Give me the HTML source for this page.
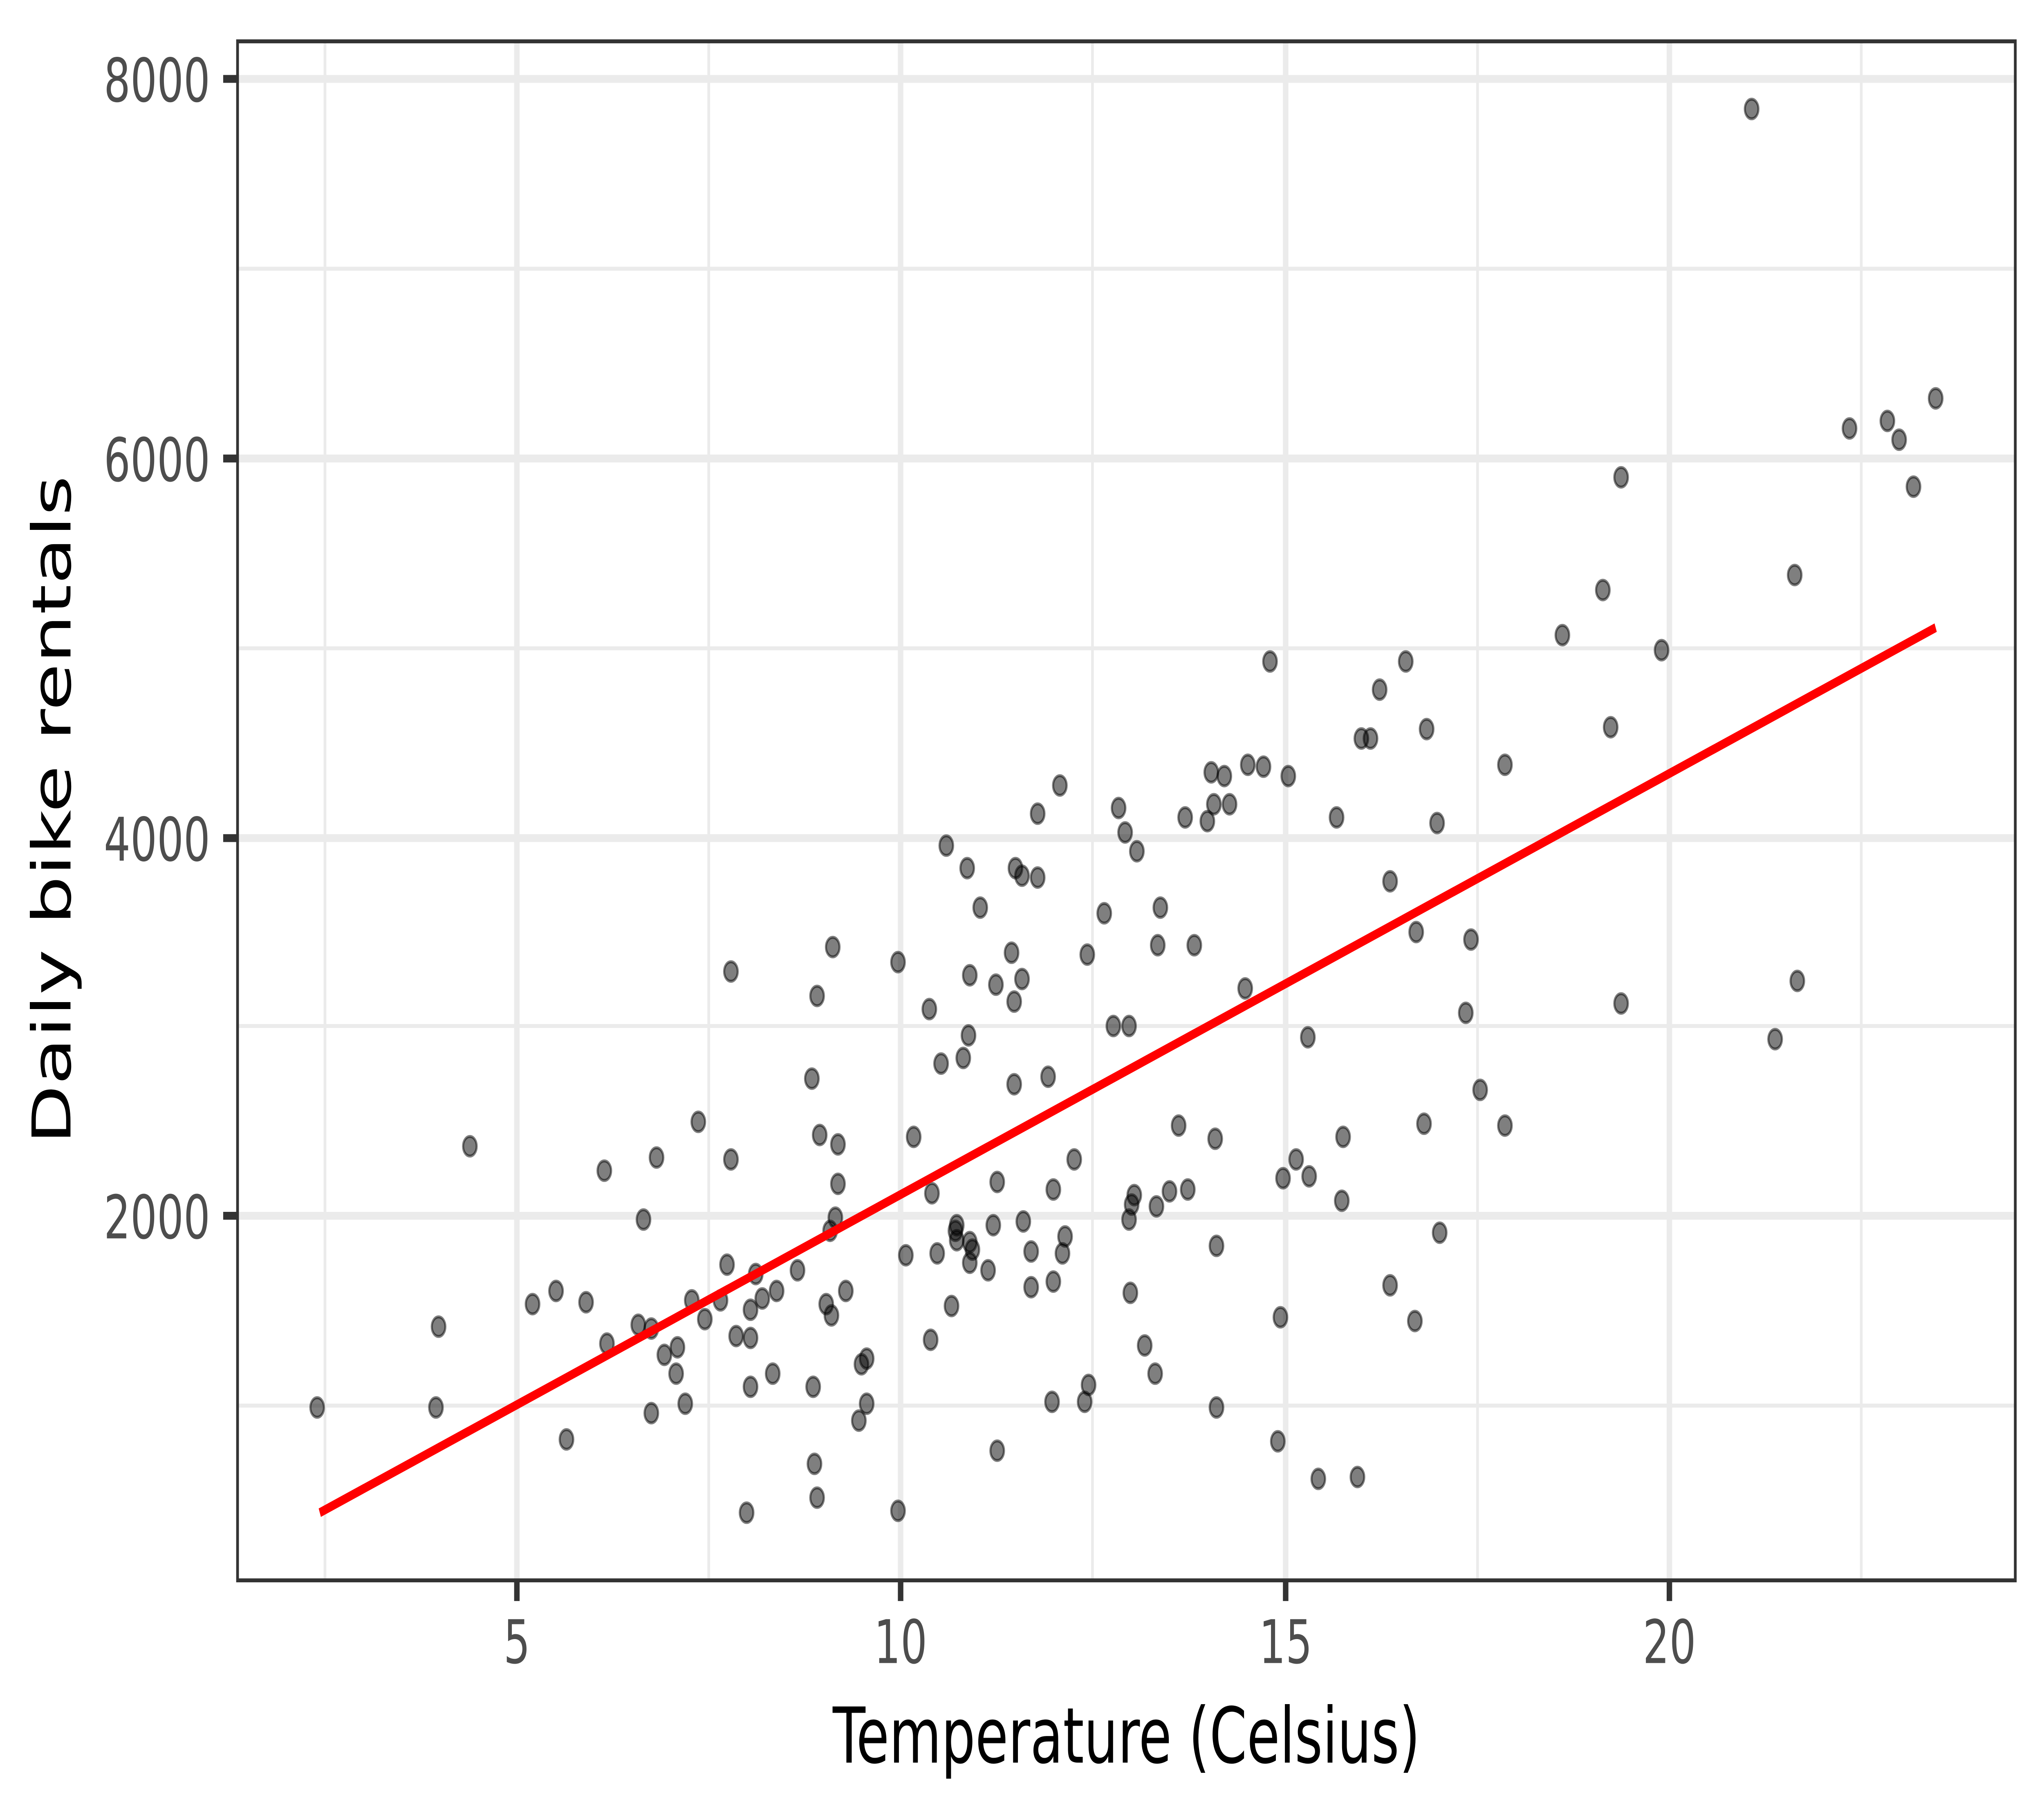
<!DOCTYPE html>
<html><head><meta charset="utf-8"><meta name="viewport" content="width=7200"><style>html,body{margin:0;padding:0;background:#fff;width:100%;height:100%;overflow:hidden}svg{display:block;position:fixed;left:0;top:0;width:100vw;height:100vh}</style></head>
<body>
<svg xmlns="http://www.w3.org/2000/svg" viewBox="0 0 1566 968" preserveAspectRatio="none" font-family="'DejaVu Sans','Liberation Sans',sans-serif">
<rect width="1566" height="968" fill="#fff"/>
<g stroke="#ebebeb" stroke-width="2.1">
<line x1="249" y1="22" x2="249" y2="841"/><line x1="543" y1="22" x2="543" y2="841"/><line x1="837" y1="22" x2="837" y2="841"/><line x1="1132" y1="22" x2="1132" y2="841"/><line x1="1426" y1="22" x2="1426" y2="841"/>
<line x1="182" y1="143" x2="1544" y2="143"/><line x1="182" y1="345" x2="1544" y2="345"/><line x1="182" y1="546" x2="1544" y2="546"/><line x1="182" y1="748" x2="1544" y2="748"/>
</g>
<g stroke="#ebebeb" stroke-width="4.2">
<line x1="396" y1="22" x2="396" y2="841"/><line x1="690" y1="22" x2="690" y2="841"/><line x1="985" y1="22" x2="985" y2="841"/><line x1="1279" y1="22" x2="1279" y2="841"/>
<line x1="182" y1="42" x2="1544" y2="42"/><line x1="182" y1="244" x2="1544" y2="244"/><line x1="182" y1="446" x2="1544" y2="446"/><line x1="182" y1="647" x2="1544" y2="647"/>
</g>
<g fill="rgba(0,0,0,0.5)" stroke="rgba(0,0,0,0.5)" stroke-width="1.6">
<circle cx="243" cy="749" r="5.2"/><circle cx="334" cy="749" r="5.2"/><circle cx="336" cy="706" r="5.2"/><circle cx="360" cy="610" r="5.2"/><circle cx="408" cy="694" r="5.2"/><circle cx="426" cy="687" r="5.2"/><circle cx="434" cy="766" r="5.2"/><circle cx="449" cy="693" r="5.2"/><circle cx="463" cy="623" r="5.2"/><circle cx="465" cy="715" r="5.2"/><circle cx="489" cy="705" r="5.2"/><circle cx="493" cy="649" r="5.2"/><circle cx="499" cy="752" r="5.2"/><circle cx="499" cy="707" r="5.2"/><circle cx="503" cy="616" r="5.2"/><circle cx="509" cy="721" r="5.2"/><circle cx="518" cy="731" r="5.2"/><circle cx="519" cy="717" r="5.2"/><circle cx="525" cy="747" r="5.2"/><circle cx="530" cy="692" r="5.2"/><circle cx="535" cy="597" r="5.2"/><circle cx="540" cy="702" r="5.2"/><circle cx="552" cy="692" r="5.2"/><circle cx="557" cy="673" r="5.2"/><circle cx="560" cy="517" r="5.2"/><circle cx="560" cy="617" r="5.2"/><circle cx="564" cy="711" r="5.2"/><circle cx="575" cy="712" r="5.2"/><circle cx="575" cy="738" r="5.2"/><circle cx="572" cy="805" r="5.2"/><circle cx="575" cy="697" r="5.2"/><circle cx="579" cy="678" r="5.2"/><circle cx="584" cy="691" r="5.2"/><circle cx="592" cy="731" r="5.2"/><circle cx="595" cy="687" r="5.2"/><circle cx="611" cy="676" r="5.2"/><circle cx="622" cy="574" r="5.2"/><circle cx="623" cy="738" r="5.2"/><circle cx="624" cy="779" r="5.2"/><circle cx="626" cy="530" r="5.2"/><circle cx="626" cy="797" r="5.2"/><circle cx="628" cy="604" r="5.2"/><circle cx="633" cy="694" r="5.2"/><circle cx="636" cy="655" r="5.2"/><circle cx="637" cy="700" r="5.2"/><circle cx="638" cy="504" r="5.2"/><circle cx="640" cy="648" r="5.2"/><circle cx="642" cy="609" r="5.2"/><circle cx="642" cy="630" r="5.2"/><circle cx="648" cy="687" r="5.2"/><circle cx="658" cy="756" r="5.2"/><circle cx="660" cy="726" r="5.2"/><circle cx="664" cy="747" r="5.2"/><circle cx="664" cy="723" r="5.2"/><circle cx="688" cy="512" r="5.2"/><circle cx="688" cy="804" r="5.2"/><circle cx="694" cy="668" r="5.2"/><circle cx="700" cy="605" r="5.2"/><circle cx="712" cy="537" r="5.2"/><circle cx="713" cy="713" r="5.2"/><circle cx="714" cy="635" r="5.2"/><circle cx="718" cy="667" r="5.2"/><circle cx="721" cy="566" r="5.2"/><circle cx="725" cy="450" r="5.2"/><circle cx="729" cy="695" r="5.2"/><circle cx="732" cy="655" r="5.2"/><circle cx="733" cy="652" r="5.2"/><circle cx="733" cy="660" r="5.2"/><circle cx="738" cy="563" r="5.2"/><circle cx="741" cy="462" r="5.2"/><circle cx="742" cy="551" r="5.2"/><circle cx="743" cy="519" r="5.2"/><circle cx="743" cy="661" r="5.2"/><circle cx="743" cy="672" r="5.2"/><circle cx="745" cy="665" r="5.2"/><circle cx="751" cy="483" r="5.2"/><circle cx="757" cy="676" r="5.2"/><circle cx="761" cy="652" r="5.2"/><circle cx="763" cy="524" r="5.2"/><circle cx="764" cy="629" r="5.2"/><circle cx="764" cy="772" r="5.2"/><circle cx="775" cy="507" r="5.2"/><circle cx="777" cy="577" r="5.2"/><circle cx="777" cy="533" r="5.2"/><circle cx="778" cy="462" r="5.2"/><circle cx="783" cy="521" r="5.2"/><circle cx="784" cy="650" r="5.2"/><circle cx="783" cy="466" r="5.2"/><circle cx="790" cy="685" r="5.2"/><circle cx="790" cy="666" r="5.2"/><circle cx="795" cy="467" r="5.2"/><circle cx="795" cy="433" r="5.2"/><circle cx="803" cy="573" r="5.2"/><circle cx="806" cy="746" r="5.2"/><circle cx="807" cy="633" r="5.2"/><circle cx="807" cy="682" r="5.2"/><circle cx="812" cy="418" r="5.2"/><circle cx="814" cy="667" r="5.2"/><circle cx="816" cy="658" r="5.2"/><circle cx="823" cy="617" r="5.2"/><circle cx="831" cy="746" r="5.2"/><circle cx="833" cy="508" r="5.2"/><circle cx="834" cy="737" r="5.2"/><circle cx="846" cy="486" r="5.2"/><circle cx="853" cy="546" r="5.2"/><circle cx="857" cy="430" r="5.2"/><circle cx="862" cy="443" r="5.2"/><circle cx="865" cy="546" r="5.2"/><circle cx="865" cy="649" r="5.2"/><circle cx="866" cy="688" r="5.2"/><circle cx="867" cy="641" r="5.2"/><circle cx="869" cy="636" r="5.2"/><circle cx="871" cy="453" r="5.2"/><circle cx="877" cy="716" r="5.2"/><circle cx="885" cy="731" r="5.2"/><circle cx="886" cy="642" r="5.2"/><circle cx="887" cy="503" r="5.2"/><circle cx="889" cy="483" r="5.2"/><circle cx="896" cy="634" r="5.2"/><circle cx="903" cy="599" r="5.2"/><circle cx="908" cy="435" r="5.2"/><circle cx="910" cy="633" r="5.2"/><circle cx="915" cy="503" r="5.2"/><circle cx="925" cy="437" r="5.2"/><circle cx="928" cy="411" r="5.2"/><circle cx="930" cy="428" r="5.2"/><circle cx="931" cy="606" r="5.2"/><circle cx="932" cy="663" r="5.2"/><circle cx="932" cy="749" r="5.2"/><circle cx="938" cy="413" r="5.2"/><circle cx="942" cy="428" r="5.2"/><circle cx="954" cy="526" r="5.2"/><circle cx="956" cy="407" r="5.2"/><circle cx="968" cy="408" r="5.2"/><circle cx="973" cy="352" r="5.2"/><circle cx="979" cy="767" r="5.2"/><circle cx="981" cy="701" r="5.2"/><circle cx="983" cy="627" r="5.2"/><circle cx="987" cy="413" r="5.2"/><circle cx="1002" cy="552" r="5.2"/><circle cx="1003" cy="626" r="5.2"/><circle cx="993" cy="617" r="5.2"/><circle cx="1010" cy="787" r="5.2"/><circle cx="1024" cy="435" r="5.2"/><circle cx="1028" cy="639" r="5.2"/><circle cx="1029" cy="605" r="5.2"/><circle cx="1040" cy="786" r="5.2"/><circle cx="1043" cy="393" r="5.2"/><circle cx="1050" cy="393" r="5.2"/><circle cx="1057" cy="367" r="5.2"/><circle cx="1065" cy="684" r="5.2"/><circle cx="1065" cy="469" r="5.2"/><circle cx="1077" cy="352" r="5.2"/><circle cx="1084" cy="703" r="5.2"/><circle cx="1085" cy="496" r="5.2"/><circle cx="1091" cy="598" r="5.2"/><circle cx="1093" cy="388" r="5.2"/><circle cx="1101" cy="438" r="5.2"/><circle cx="1103" cy="656" r="5.2"/><circle cx="1123" cy="539" r="5.2"/><circle cx="1127" cy="500" r="5.2"/><circle cx="1134" cy="580" r="5.2"/><circle cx="1153" cy="407" r="5.2"/><circle cx="1153" cy="599" r="5.2"/><circle cx="1197" cy="338" r="5.2"/><circle cx="1228" cy="314" r="5.2"/><circle cx="1234" cy="387" r="5.2"/><circle cx="1242" cy="254" r="5.2"/><circle cx="1242" cy="534" r="5.2"/><circle cx="1273" cy="346" r="5.2"/><circle cx="1342" cy="58" r="5.2"/><circle cx="1360" cy="553" r="5.2"/><circle cx="1375" cy="306" r="5.2"/><circle cx="1377" cy="522" r="5.2"/><circle cx="1417" cy="228" r="5.2"/><circle cx="1446" cy="224" r="5.2"/><circle cx="1455" cy="234" r="5.2"/><circle cx="1466" cy="259" r="5.2"/><circle cx="1483" cy="212" r="5.2"/>
</g>
<line x1="245" y1="805" x2="1483" y2="334" stroke="#ff0000" stroke-width="4.8"/>
<rect x="182" y="22" width="1362" height="819" fill="none" stroke="#333" stroke-width="2.1"/>
<g stroke="#333" stroke-width="4.2">
<line x1="396" y1="841" x2="396" y2="852"/><line x1="690" y1="841" x2="690" y2="852"/><line x1="985" y1="841" x2="985" y2="852"/><line x1="1279" y1="841" x2="1279" y2="852"/>
<line x1="171" y1="42" x2="182" y2="42"/><line x1="171" y1="244" x2="182" y2="244"/><line x1="171" y1="446" x2="182" y2="446"/><line x1="171" y1="647" x2="182" y2="647"/>
</g>
<g fill="#4d4d4d" font-size="32" text-anchor="middle">
<text x="396" y="885">5</text><text x="690" y="885">10</text><text x="985" y="885">15</text><text x="1279" y="885">20</text>
</g>
<g fill="#4d4d4d" font-size="32" text-anchor="end">
<text x="161" y="54">8000</text><text x="161" y="256">6000</text><text x="161" y="458">4000</text><text x="161" y="659">2000</text>
</g>
<text x="863" y="938" font-size="41" text-anchor="middle" fill="#000">Temperature (Celsius)</text>
<text transform="translate(54,431) rotate(-90)" font-size="41" text-anchor="middle" fill="#000">Daily bike rentals</text>
</svg>
</body></html>
